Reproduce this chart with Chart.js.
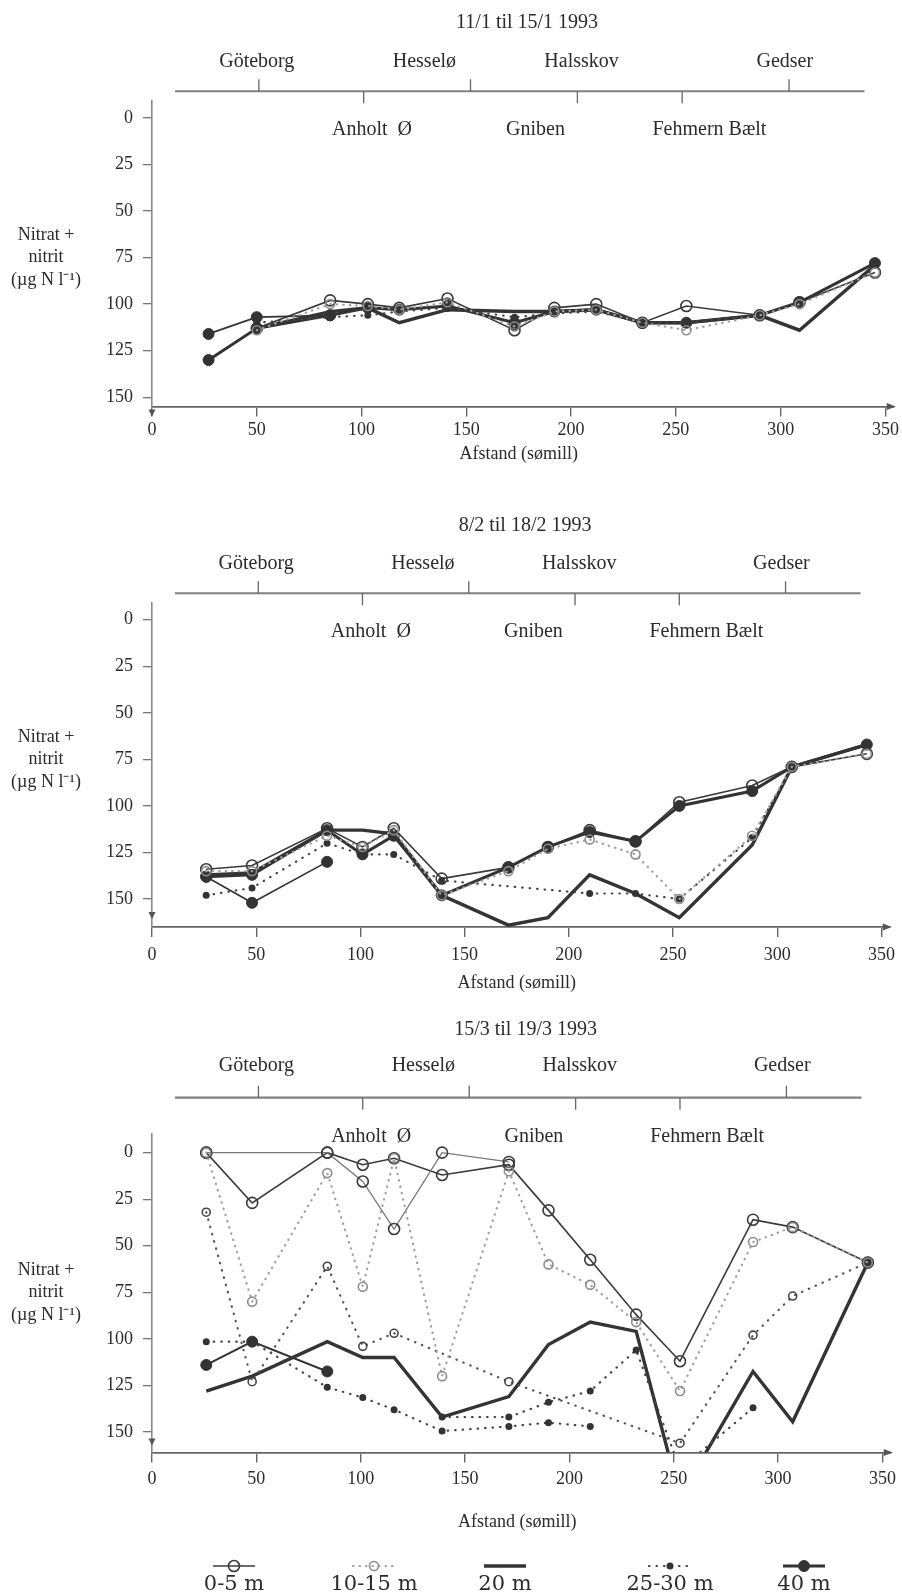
<!DOCTYPE html>
<html>
<head>
<meta charset="utf-8">
<script src="https://cdn.jsdelivr.net/npm/chart.js@4.4.1/dist/chart.umd.min.js"></script>
<style>
  body { margin: 0; background: #fff; }
  .panel { position: absolute; left: 0; }
</style>
</head>
<body>
<canvas id="c1" class="panel" style="top:0"></canvas>
<canvas id="c2" class="panel" style="top:480px"></canvas>
<canvas id="c3" class="panel" style="top:1000px"></canvas>
<script>
// Afstand (sømill) for stasjonene
const dist1 = [27, 50, 85, 103, 118, 141, 173, 192, 212, 234, 255, 290, 309, 345];
const dist23 = [26, 48, 84, 101, 116, 139, 171, 190, 210, 232, 253, 288, 307, 343];
const xTicks = [0, 50, 100, 150, 200, 250, 300, 350];
const yTicks = [0, 25, 50, 75, 100, 125, 150];

const titles = ["11/1 til 15/1 1993", "8/2 til 18/2 1993", "15/3 til 19/3 1993"];
const topNames = ["Göteborg", "Hesselø", "Halsskov", "Gedser"];
const topNamePos = [50, 130, 205, 302];
const bottomNames = ["Anholt  Ø", "Gniben", "Fehmern Bælt"];
const bottomNamePos = [105, 183, 266];
const ticksUp = [51, 152, 304];
const ticksDown = [101, 203, 253];
const lineSpan = [11, 340];
const depths = ["0-5 m", "10-15 m", "20 m", "25-30 m", "40 m"];

// Panel 1: 11/1 - 15/1
const p1_05   = [null, 113, 98, 100, 102, 97, 114, 102, 100, 110, 101, 106, 99, 83];
const p1_1015 = [null, 114, 100, 101, 103, 99, 112, 104, 103, 110, 114, 106, 100, 83];
const p1_20   = [null, 113, 104, 102, 110, 103, 104, 104, 103, 110, 110, 106, 114, 79];
const p1_2530 = [null, 110, 107, 106, 104, 102, 107, 105, 104, 110, 110, 106, null, null];
const p1_40   = [130, 113, 106, 102, 103, 101, 110, 104, 103, 110, 110, 106, 99, 78];
const p1_40b  = [116, 107, 106, null, null, null, null, null, null, null, null, null, null, null];

// Panel 2: 8/2 - 18/2
const p2_05   = [134, 132, 112, 122, 112, 139, 133, 122, 113, 119, 98, 89, 79, 72];
const p2_1015 = [135, 135, 116, 122, 113, 148, 135, 123, 118, 126, 150, 116, 79, 72];
const p2_20   = [137, 136, 113, 113, 115, 148, 164, 160, 137, 147, 160, 121, 79, 67];
const p2_2530 = [148, 144, 120, 126, 126, 140, null, null, 147, 147, 150, 117, 79, null];
const p2_40   = [138, 137, 113, 126, 116, 148, 133, 122, 114, 119, 100, 92, 79, 67];
const p2_40b  = [138, 152, 130, null, null, null, null, null, null, null, null, null, null, null];

// Panel 3: 15/3 - 19/3
const p3_05    = [0, 27, 0, 6.5, 3, 12, 6.5, 31, 57.5, 87, 112, 36, 40, 59];
const p3_05b   = [0, null, 0, 15.5, 41, 0, 5, null, null, null, null, null, null, null];
const p3_1015  = [0, 80, 11, 72, 3, 120, 10, 60, 71, 91, 128, 48, 40, 59];
const p3_1015b = [32, 123, 61, 104, 97, null, 123, null, null, null, 156, 98, 77, 59];
const p3_20    = [128, 120, 101.5, 110, 110, 142, 131, 103, 91, 96, 185, 117.5, 144.5, 59];
const p3_2530  = [101.5, 101.5, 126, 131.5, 138, 149.5, 147, 145, 147, null, null, null, null, null];
const p3_2530b = [null, null, null, null, null, 142, 142, 134, 128, 106, 170, 137, null, null];
const p3_40    = [114, 101.5, 117.5, null, null, null, null, null, null, null, null, null, null, 59];

const FONT = '"Liberation Serif", serif';
const INK = "#2b2b2b";

const styles = {
  "0-5 m":   { borderColor: "#3a3a3a", borderWidth: 1.6, pointRadius: 5.5, pointBorderWidth: 1.6,
               pointBackgroundColor: "rgba(255,255,255,0)", pointBorderColor: "#3a3a3a" },
  "10-15 m": { borderColor: "#a0a0a0", borderWidth: 2.2, borderDash: [0.5, 6], borderCapStyle: "round",
               pointRadius: 4.5, pointBorderWidth: 1.6, pointBackgroundColor: "rgba(255,255,255,0)", pointBorderColor: "#8c8c8c" },
  "20 m":    { borderColor: "#343434", borderWidth: 3.4, pointRadius: 0 },
  "25-30 m": { borderColor: "#444", borderWidth: 2.2, borderDash: [0.5, 7], borderCapStyle: "round",
               pointRadius: 3.5, pointBorderWidth: 0, pointBackgroundColor: "#333", pointBorderColor: "#333" },
  "40 m":    { borderColor: "#333", borderWidth: 3, pointRadius: 5.5, pointBorderWidth: 1,
               pointBackgroundColor: "#333", pointBorderColor: "#333" }
};

function ds(depth, xs, ys, extra) {
  return Object.assign({
    label: depth,
    data: xs.map((x, i) => ({ x: x, y: ys[i] })),
    tension: 0,
    spanGaps: true
  }, styles[depth], extra || {});
}

function arrowDown(ctx, x, y) {
  ctx.beginPath(); ctx.moveTo(x - 3.5, y - 7); ctx.lineTo(x + 3.5, y - 7); ctx.lineTo(x, y); ctx.closePath(); ctx.fill();
}
function arrowRight(ctx, x, y) {
  ctx.beginPath(); ctx.moveTo(x - 9, y - 3.5); ctx.lineTo(x - 9, y + 3.5); ctx.lineTo(x, y); ctx.closePath(); ctx.fill();
}

function drawLegend(chart, lay) {
  const ctx = chart.ctx;
  depths.forEach((d, i) => {
    const s = styles[d];
    const cx = lay.legendX[i], y = lay.legendY;
    ctx.save();
    ctx.strokeStyle = s.borderColor;
    ctx.lineWidth = s.borderWidth;
    ctx.lineCap = s.borderCapStyle || "butt";
    ctx.setLineDash(s.borderDash || []);
    ctx.beginPath(); ctx.moveTo(cx - 21, y); ctx.lineTo(cx + 21, y); ctx.stroke();
    ctx.setLineDash([]);
    if (s.pointRadius > 0) {
      ctx.beginPath(); ctx.arc(cx, y, s.pointRadius, 0, Math.PI * 2);
      ctx.fillStyle = s.pointBackgroundColor; ctx.fill();
      if (s.pointBorderWidth) { ctx.lineWidth = s.pointBorderWidth; ctx.strokeStyle = s.pointBorderColor; ctx.stroke(); }
    }
    ctx.fillStyle = INK;
    ctx.font = '21px "DejaVu Serif", serif';
    ctx.textAlign = "center"; ctx.textBaseline = "middle";
    ctx.fillText(d, cx, lay.legendTextY);
    ctx.restore();
  });
}

function deco(lay) {
  return {
    id: "deco",
    afterDraw(chart) {
      const { ctx, scales: { x, y }, chartArea } = chart;
      const z = y.getPixelForValue(0);
      ctx.save();
      ctx.fillStyle = INK;
      ctx.textAlign = "center"; ctx.textBaseline = "middle";
      ctx.font = "20px " + FONT;
      ctx.fillText(lay.title, x.getPixelForValue(179), z + lay.titleDy);
      topNames.forEach((n, i) => ctx.fillText(n, x.getPixelForValue(topNamePos[i]), z + lay.namesDy));
      bottomNames.forEach((n, i) => ctx.fillText(n, x.getPixelForValue(bottomNamePos[i]), z + lay.bottomDy));
      // stasjonsakse
      const ly = z + lay.lineDy;
      ctx.strokeStyle = "#808080"; ctx.lineWidth = 2.2;
      ctx.beginPath(); ctx.moveTo(x.getPixelForValue(lineSpan[0]), ly); ctx.lineTo(x.getPixelForValue(lineSpan[1]), ly); ctx.stroke();
      ctx.lineWidth = 1.3; ctx.strokeStyle = "#666";
      ctx.beginPath();
      ticksUp.forEach(v => { const px = x.getPixelForValue(v); ctx.moveTo(px, ly); ctx.lineTo(px, ly - 12); });
      ticksDown.forEach(v => { const px = x.getPixelForValue(v); ctx.moveTo(px, ly); ctx.lineTo(px, ly + 12); });
      ctx.stroke();
      // y-aksetittel
      ctx.font = "18px " + FONT;
      const m = y.getPixelForValue(75);
      ctx.fillText("Nitrat +", lay.yTitleX, m - 22);
      ctx.fillText("nitrit", lay.yTitleX, m);
      ctx.fillText("(µg N l⁻¹)", lay.yTitleX, m + 23);
      // x-aksetittel
      ctx.fillText("Afstand (sømill)", x.getPixelForValue(175), chartArea.bottom + lay.xTitleDy);
      // piler
      ctx.fillStyle = "#555";
      arrowDown(ctx, chartArea.left, chartArea.bottom + lay.arrowDy);
      arrowRight(ctx, chartArea.right + 2, chartArea.bottom);
      ctx.restore();
      if (lay.legend) drawLegend(chart, lay);
    }
  };
}

function panel(id, lay, sets) {
  const cv = document.getElementById(id);
  cv.width = 902; cv.height = lay.h;
  const yW = 60, xH = 40;
  return new Chart(cv, {
    type: "line",
    data: { datasets: sets },
    options: {
      responsive: false, animation: false, events: [],
      layout: { padding: { left: lay.L - yW, right: 902 - lay.R, top: lay.T, bottom: lay.h - lay.B - xH } },
      plugins: { legend: { display: false }, tooltip: { enabled: false } },
      scales: {
        x: {
          type: "linear", min: 0, max: 354,
          afterBuildTicks: s => { s.ticks = xTicks.map(v => ({ value: v })); },
          afterFit: s => { s.height = xH; },
          grid: { drawOnChartArea: false, drawTicks: true, tickLength: 10, color: "#666", lineWidth: 1.4 },
          border: { color: "#666", width: 1.8 },
          ticks: { color: INK, font: { family: FONT, size: 18 }, padding: lay.xPad, maxRotation: 0 }
        },
        y: {
          type: "linear", reverse: true, min: lay.yMin, max: lay.yMax,
          afterBuildTicks: s => { s.ticks = yTicks.map(v => ({ value: v })); },
          afterFit: s => { s.width = yW; },
          grid: { drawOnChartArea: false, drawTicks: true, tickLength: 9, color: "#777", lineWidth: 1.3 },
          border: { color: "#8a8a8a", width: 1.6 },
          ticks: { color: INK, font: { family: FONT, size: 18 }, padding: 10 }
        }
      }
    },
    plugins: [deco(lay)]
  });
}

panel("c1", { h: 480, L: 152, R: 895, T: 101, B: 406.6, yMin: -9, yMax: 155, xPad: 3,
  title: titles[0], titleDy: -95, namesDy: -56, lineDy: -26.5, bottomDy: 12,
  yTitleX: 46, xTitleDy: 48, arrowDy: 10 }, [
  ds("10-15 m", dist1, p1_1015),
  ds("25-30 m", dist1, p1_2530),
  ds("20 m", dist1, p1_20),
  ds("40 m", dist1, p1_40b, { borderWidth: 1.8 }),
  ds("40 m", dist1, p1_40),
  ds("0-5 m", dist1, p1_05)
]);

panel("c2", { h: 520, L: 152, R: 895, T: 123, B: 447, yMin: -9, yMax: 165, xPad: 7,
  title: titles[1], titleDy: -94, namesDy: -56, lineDy: -26.5, bottomDy: 12,
  yTitleX: 46, xTitleDy: 56, arrowDy: -8 }, [
  ds("10-15 m", dist23, p2_1015),
  ds("25-30 m", dist23, p2_2530),
  ds("20 m", dist23, p2_20),
  ds("40 m", dist23, p2_40b, { borderWidth: 1.6 }),
  ds("40 m", dist23, p2_40),
  ds("0-5 m", dist23, p2_05)
]);

panel("c3", { h: 595, L: 152, R: 895, T: 134, B: 452.5, yMin: -10, yMax: 161, xPad: 6,
  title: titles[2], titleDy: -123, namesDy: -87, lineDy: -55, bottomDy: -16,
  yTitleX: 46, xTitleDy: 70, arrowDy: -7,
  legend: true, legendX: [234, 374, 505, 670, 804], legendY: 566, legendTextY: 585 }, [
  ds("10-15 m", dist23, p3_1015),
  ds("10-15 m", dist23, p3_1015b, { borderColor: "#555", pointBorderColor: "#444", pointRadius: 4, borderDash: [0.5, 7] }),
  ds("25-30 m", dist23, p3_2530),
  ds("25-30 m", dist23, p3_2530b),
  ds("20 m", dist23, p3_20),
  ds("40 m", dist23, p3_40, { spanGaps: false, borderWidth: 2 }),
  ds("0-5 m", dist23, p3_05b, { borderColor: "#777", borderWidth: 1.3 }),
  ds("0-5 m", dist23, p3_05)
]);
</script>
</body>
</html>
